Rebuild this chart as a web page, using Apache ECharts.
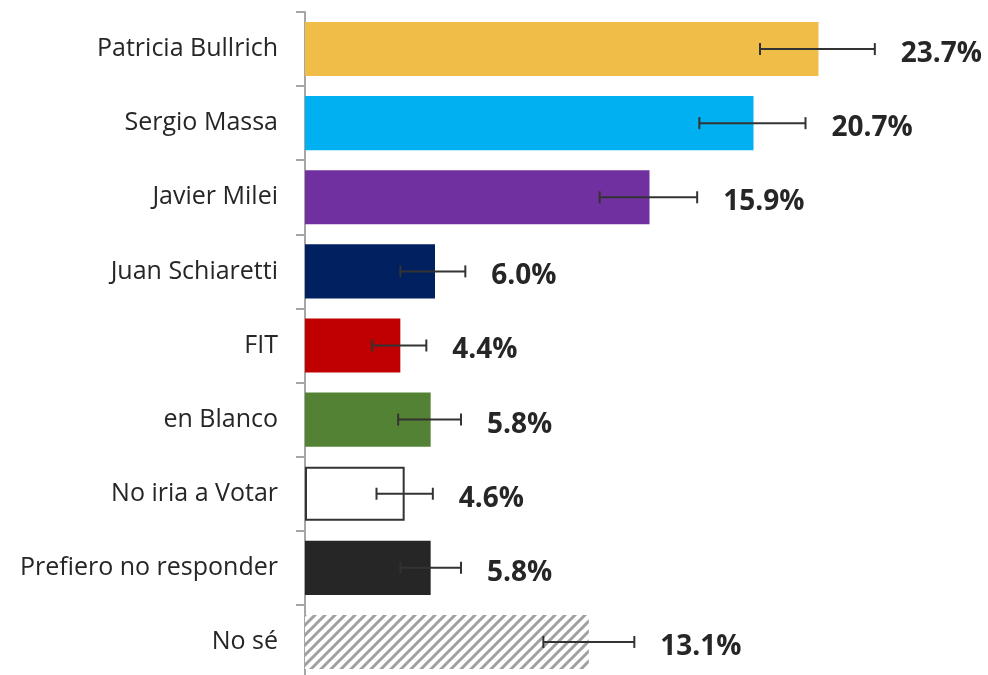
<!DOCTYPE html>
<html>
<head>
<meta charset="utf-8">
<script src="https://cdn.jsdelivr.net/npm/echarts@6/dist/echarts.min.js"></script>
<style>
    html, body { margin: 0; padding: 0; background: #fff; }
    #chart { width: 988px; height: 675px; }
</style>
</head>
<body>
<div id="chart"></div>
<script>
var categories = ['Patricia Bullrich', 'Sergio Massa', 'Javier Milei', 'Juan Schiaretti', 'FIT',
    'en Blanco', 'No iria a Votar', 'Prefiero no responder', 'No sé'];
var values = [23.7, 20.7, 15.9, 6.0, 4.4, 5.8, 4.6, 5.8, 13.1];
var errLow = [21.0, 18.2, 13.6, 4.4, 3.1, 4.3, 3.3, 4.4, 11.0];
var errHigh = [26.3, 23.1, 18.1, 7.4, 5.6, 7.2, 5.9, 7.2, 15.2];
var colors = ['#F0BE48', '#00B0F0', '#7030A0', '#002060', '#C00000', '#548235', '#FFFFFF', '#262626', 'hatch'];

// striped fill for "No sé"
var makeHatch = function () {
    var c = document.createElement('canvas');
    c.width = 10;
    c.height = 10;
    var ctx = c.getContext('2d');
    ctx.fillStyle = '#fff';
    ctx.fillRect(0, 0, 10, 10);
    ctx.strokeStyle = '#a0a0a0';
    ctx.lineWidth = 3;
    ctx.beginPath();
    ctx.moveTo(-2, 12); ctx.lineTo(12, -2);
    ctx.moveTo(-7, 7); ctx.lineTo(7, -7);
    ctx.moveTo(3, 17); ctx.lineTo(17, 3);
    ctx.stroke();
    return {image: c, repeat: 'repeat'};
};

var box = echarts.init(document.getElementById('chart'));

// reversed so the first category sits on top
var cats = categories.slice().reverse();
var barData = values.slice().reverse().map(function (v, i) {
    var col = colors[colors.length - 1 - i];
    var style = {color: col === 'hatch' ? makeHatch() : col};
    if (col === '#FFFFFF') {
        style.borderColor = '#333';
        style.borderWidth = 2;
    }
    return {value: v, itemStyle: style};
});
var errData = errLow.slice().reverse().map(function (lo, i) {
    return [i, lo, errHigh[errHigh.length - 1 - i], values[values.length - 1 - i]];
});

var option = {
    animation: false,
    grid: {left: 305, width: 650, top: 12, height: 667, outerBoundsMode: 'none'},
    xAxis: {
        type: 'value', min: 0, max: 30, show: false
    },
    yAxis: {
        type: 'category',
        data: cats,
        axisLine: {lineStyle: {color: '#a6a6a6', width: 2}},
        axisTick: {show: true, length: 9, lineStyle: {color: '#a6a6a6', width: 2}},
        axisLabel: {
            margin: 27,
            fontSize: 25,
            fontFamily: 'Open Sans',
            color: '#262626'
        }
    },
    series: [
        {
            type: 'bar',
            data: barData,
            barCategoryGap: '27%'
        },
        {
            type: 'custom',
            data: errData,
            z: 10,
            renderItem: function (params, api) {
                var y = api.coord([0, api.value(0)])[1];
                var x1 = api.coord([api.value(1), 0])[0];
                var x2 = api.coord([api.value(2), 0])[0];
                var h = 6;
                var ls = {stroke: '#333', lineWidth: 2};
                return {
                    type: 'group',
                    children: [
                        {type: 'line', shape: {x1: x1, y1: y, x2: x2, y2: y}, style: ls},
                        {type: 'line', shape: {x1: x1, y1: y - h, x2: x1, y2: y + h}, style: ls},
                        {type: 'line', shape: {x1: x2, y1: y - h, x2: x2, y2: y + h}, style: ls},
                        {
                            type: 'text',
                            x: x2 + 26, y: y + 5,
                            style: {
                                text: api.value(3).toFixed(1) + '%',
                                fill: '#262626',
                                font: 'bold 28px "Open Sans"',
                                textVerticalAlign: 'middle'
                            }
                        }
                    ]
                };
            }
        }
    ]
};
box.setOption(option);
</script>
</body>
</html>
